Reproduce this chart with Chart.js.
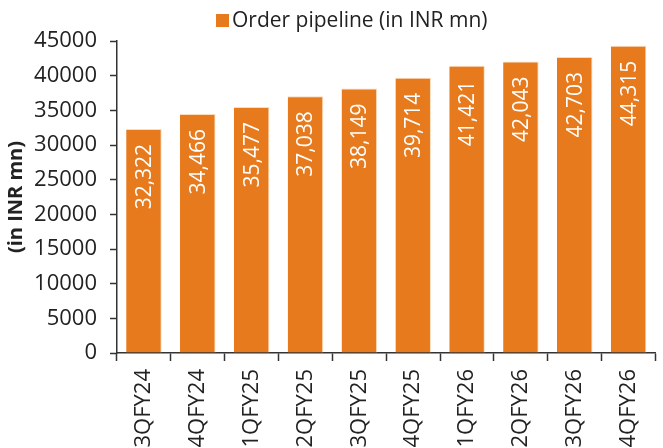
<!DOCTYPE html>
<html>
<head>
<meta charset="utf-8">
<script src="https://cdn.jsdelivr.net/npm/chart.js@4.4.1/dist/chart.umd.min.js"></script>
<style>
  html, body { margin: 0; padding: 0; overflow: hidden; background: #fff; }
  #wrap { width: 663px; height: 470px; position: relative; }
</style>
</head>
<body>
<div id="wrap"><canvas id="chart"></canvas></div>
<script>
// Quarterly order pipeline, INR mn
const quarters = ['3QFY24', '4QFY24', '1QFY25', '2QFY25', '3QFY25', '4QFY25', '1QFY26', '2QFY26', '3QFY26', '4QFY26'];
const pipeline = [32322, 34466, 35477, 37038, 38149, 39714, 41421, 42043, 42703, 44315];
const yTickValues = [0, 5000, 10000, 15000, 20000, 25000, 30000, 35000, 40000, 45000];
const seriesName = 'Order pipeline (in INR mn)';
const yAxisTitle = '(in INR mn)';

const BAR = '#E67A1D';
const INK = '#222222';
const FONT = '"Open Sans", "Noto Sans", sans-serif';

// White value labels, rotated, placed just inside the top of each bar
const barValueLabels = {
  id: 'barValueLabels',
  afterDatasetsDraw(chart) {
    const { ctx } = chart;
    const meta = chart.getDatasetMeta(0);
    const values = chart.data.datasets[0].data;
    ctx.save();
    ctx.fillStyle = '#ffffff';
    ctx.font = '21px ' + FONT;
    ctx.textAlign = 'right';
    ctx.textBaseline = 'middle';
    meta.data.forEach((bar, i) => {
      ctx.save();
      ctx.translate(bar.x, bar.y + 15);
      ctx.rotate(-Math.PI / 2);
      ctx.fillText(values[i].toLocaleString('en-US'), 0, 1);
      ctx.restore();
    });
    ctx.restore();
  }
};

// Compact legend: square swatch with tight spacing to its label
const compactLegend = {
  id: 'compactLegend',
  afterDraw(chart) {
    const { ctx } = chart;
    const ds = chart.data.datasets[0];
    ctx.save();
    const boxX = 216, boxY = 14, box = 13;
    ctx.fillStyle = ds.backgroundColor;
    ctx.fillRect(boxX, boxY, box, box);
    ctx.fillStyle = INK;
    ctx.font = '21px ' + FONT;
    ctx.textAlign = 'left';
    ctx.textBaseline = 'middle';
    ctx.fillText(ds.label, boxX + box + 3, boxY + box / 2 + 1);
    ctx.restore();
  }
};

new Chart(document.getElementById('chart'), {
  type: 'bar',
  data: {
    labels: quarters,
    datasets: [{
      label: seriesName,
      data: pipeline,
      backgroundColor: BAR,
      borderColor: 'rgba(250, 215, 180, 0.9)',
      borderWidth: { left: 0, right: 1, top: 1, bottom: 0 },
      borderSkipped: 'bottom',
      categoryPercentage: 1,
      barPercentage: 0.66
    }]
  },
  options: {
    responsive: true,
    maintainAspectRatio: false,
    animation: false,
    devicePixelRatio: 1,
    layout: { padding: { top: 41, right: 0, left: 0, bottom: 0 } },
    plugins: {
      legend: { display: false },
      tooltip: { enabled: false }
    },
    scales: {
      x: {
        offset: true,
        grid: {
          display: true,
          offset: true,
          drawOnChartArea: false,
          drawTicks: true,
          tickLength: 8,
          tickColor: '#333',
          tickWidth: 1.5
        },
        border: { display: true, color: '#333', width: 1.5 },
        ticks: {
          color: INK,
          font: { family: FONT, size: 22 },
          minRotation: 90,
          maxRotation: 90,
          padding: 8,
          autoSkip: false
        },
        afterFit(scale) { scale.height = 117; }
      },
      y: {
        min: 0,
        max: 45000,
        afterBuildTicks(scale) { scale.ticks = yTickValues.map(v => ({ value: v })); },
        grid: {
          display: true,
          drawOnChartArea: false,
          drawTicks: true,
          tickLength: 7,
          tickColor: '#333',
          tickWidth: 1.5
        },
        border: { display: true, color: '#333', width: 1.5 },
        ticks: {
          color: INK,
          font: { family: FONT, size: 22 },
          padding: 13,
          callback: (v) => String(v)
        },
        title: {
          display: true,
          text: yAxisTitle,
          color: INK,
          font: { family: FONT, size: 20, weight: 'bold' },
          padding: { top: 4, bottom: 0 }
        },
        afterFit(scale) { scale.width = 117; }
      }
    }
  },
  plugins: [barValueLabels, compactLegend]
});
</script>
</body>
</html>
